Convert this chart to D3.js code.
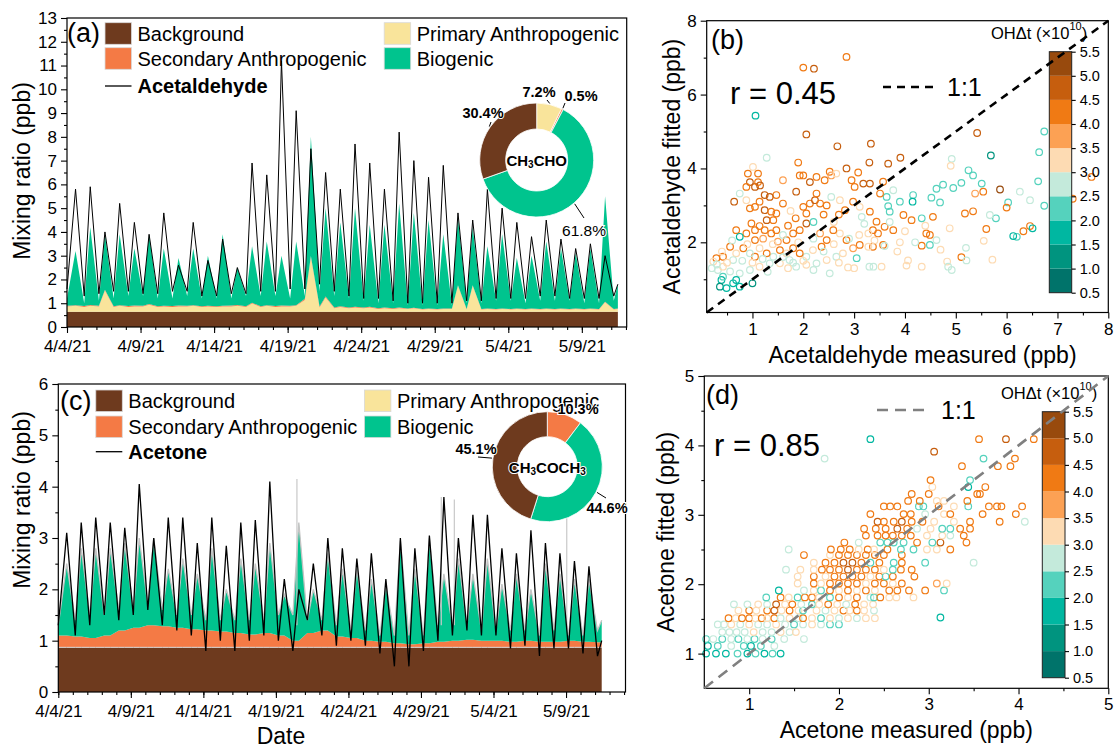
<!DOCTYPE html>
<meta charset="utf-8">
<style>
  body { margin: 0; background: #fff; }
  svg { font-family: "Liberation Sans", Arial, Helvetica, sans-serif; }
  .axis text { font-size: 17px; fill: #000; font-family: "Liberation Sans", Arial, sans-serif; }
  .axis line { stroke: #000; stroke-width: 1.1; }
</style>

<body>
  <script src="https://d3js.org/d3.v7.min.js"></script>
  <script>
    // ---------------- data ----------------
    var sourceNames = ["Background", "Primary Anthropogenic", "Secondary Anthropogenic", "Biogenic"];
    var sourceColors = ["#6e3a1e", "#f9e49b", "#f47a45", "#00c48e"];

    var ohBands = [0.5, 1.0, 1.5, 2.0, 2.5, 3.0, 3.5, 4.0, 4.5, 5.0, 5.5];
    var ohColors = ["#00736a", "#00947f", "#00b7a1", "#55d2bd", "#c4eadb",
      "#fddbb3", "#fca154", "#f07a14", "#c65e0e", "#984a0d"];

    var dateTickDays = [0, 5, 10, 15, 20, 25, 30, 35];

    // (a) acetaldehyde, one low (early morning) and one peak (afternoon) value per day
    var aBackground = 0.64;
    var aPrimLow = [0.22, 0.2, 0.22, 0.2, 0.2, 0.22, 0.2, 0.2, 0.22, 0.2, 0.2, 0.22, 0.2, 0.2, 0.2, 0.22, 0.5, 0.18, 0.15, 0.15,
      0.15, 0.12, 0.12, 0.12, 0.1, 0.1, 0.12, 0.1, 0.1, 0.1, 0.1, 0.1, 0.1, 0.1, 0.1, 0.1, 0.1, 0.1];
    var aPrimPeak = [0.25, 0.25, 0.9, 0.25, 0.22, 0.3, 0.22, 0.22, 0.25, 0.22, 0.22, 0.25, 0.35, 0.25, 0.22, 0.25, 2.3, 0.6, 0.2, 0.18,
      0.18, 0.15, 0.15, 0.15, 0.12, 0.12, 1.1, 1.1, 0.12, 0.12, 0.12, 0.12, 0.12, 0.12, 0.12, 0.12, 0.4, 0.12];
    var aSec = [0.03, 0.04, 0.03, 0.03, 0.04, 0.03, 0.03, 0.04, 0.03, 0.03, 0.03, 0.04, 0.03, 0.03, 0.04, 0.03, 0.05, 0.04, 0.03, 0.03,
      0.03, 0.03, 0.03, 0.02, 0.02, 0.02, 0.02, 0.02, 0.02, 0.02, 0.02, 0.02, 0.02, 0.02, 0.02, 0.02, 0.02, 0.02];
    var aBioTopLow = [1.2, 1.0, 1.1, 1.2, 1.3, 1.3, 1.2, 1.2, 1.3, 1.2, 1.2, 1.2, 1.3, 1.3, 1.3, 1.2, 1.3, 1.5, 1.3, 1.2,
      1.1, 1.0, 1.0, 0.9, 0.9, 0.9, 0.9, 1.0, 1.0, 1.1, 1.1, 1.0, 1.1, 1.1, 1.1, 1.0, 1.0, 1.1];
    var aBioTopPeak = [3.2, 4.2, 3.9, 3.9, 3.3, 3.9, 3.3, 2.9, 3.3, 3.0, 3.9, 2.5, 3.4, 3.6, 3.0, 3.6, 8.0, 5.0, 4.4, 5.0,
      4.3, 4.3, 5.2, 4.8, 4.5, 3.9, 4.6, 4.2, 3.4, 3.9, 2.9, 3.0, 3.6, 3.3, 3.1, 3.3, 5.5, 1.8];
    var aMeasLow = [1.6, 1.3, 1.4, 1.5, 1.5, 1.4, 1.4, 1.5, 1.5, 1.3, 1.3, 1.4, 1.4, 1.5, 1.5, 1.6, 1.6, 1.8, 1.5, 1.3,
      1.2, 1.2, 1.1, 1.0, 1.0, 1.0, 1.0, 1.1, 1.1, 1.2, 1.2, 1.2, 1.3, 1.3, 1.2, 1.2, 1.2, 1.3];
    var aMeasPeak = [5.8, 5.9, 4.0, 5.2, 4.4, 3.9, 4.8, 2.6, 4.4, 2.8, 3.7, 2.5, 6.9, 6.4, 11.2, 9.1, 7.5, 6.5, 5.8, 7.7,
      6.9, 5.8, 8.2, 7.0, 6.3, 6.8, 4.8, 4.5, 5.8, 5.0, 4.4, 3.8, 4.5, 3.7, 3.3, 3.5, 3.0, 1.8];

    // (c) acetone
    var cBackground = 0.87;
    var cSecTop = [1.1, 1.08, 1.05, 1.1, 1.2, 1.25, 1.3, 1.28, 1.25, 1.22, 1.2, 1.18, 1.15, 1.12, 1.15, 1.1, 1.0, 1.15, 1.2, 1.08,
      1.05, 1.0, 0.98, 0.95, 0.93, 0.95, 0.98, 1.0, 1.02, 1.0, 1.0, 0.98, 1.0, 0.98, 0.98, 1.0, 0.98, 0.97];
    var cBioTopLow = [1.3, 1.4, 1.5, 1.5, 1.6, 1.6, 1.7, 1.6, 1.5, 1.5, 1.4, 1.4, 1.4, 1.4, 1.4, 1.5, 1.5, 1.4, 1.4, 1.3,
      1.2, 1.2, 1.1, 1.1, 1.1, 1.1, 1.3, 1.3, 1.3, 1.2, 1.2, 1.2, 1.2, 1.1, 1.2, 1.1, 1.1, 1.2];
    var cBioTopPeak = [2.5, 2.8, 2.8, 2.8, 2.9, 3.0, 3.0, 2.4, 2.6, 2.3, 2.8, 2.0, 2.6, 2.5, 2.9, 1.9, 3.3, 2.0, 2.7, 2.4,
      2.4, 2.2, 2.1, 2.95, 2.4, 3.0, 2.3, 2.6, 2.3, 2.6, 2.1, 2.3, 2.0, 2.5, 2.3, 2.2, 2.2, 1.4];
    var cMeasLow = [1.3, 1.1, 1.3, 1.5, 1.4, 1.5, 1.6, 1.3, 1.2, 1.1, 0.8, 1.0, 0.8, 1.0, 1.1, 1.0, 0.8, 1.4, 1.1, 0.9,
      1.0, 0.9, 0.75, 0.5, 0.5, 0.8, 1.0, 1.1, 1.2, 1.1, 1.1, 0.85, 0.9, 0.7, 0.85, 0.85, 0.75, 0.7];
    var cMeasPeak = [3.1, 3.3, 3.4, 3.3, 3.2, 4.05, 3.0, 3.4, 3.4, 2.9, 3.4, 2.85, 3.3, 3.35, 4.1, 2.2, 2.0, 2.5, 3.0, 2.8,
      2.6, 2.7, 2.2, 3.0, 2.8, 3.05, 3.8, 3.0, 3.45, 3.45, 2.8, 2.7, 3.15, 2.9, 2.7, 2.55, 2.45, 1.0];
    var cGraySpikeDays = [16.45, 26.4, 27.3, 35.05];
    var cGraySpikeValues = [4.15, 3.8, 3.75, 3.5];

    // donuts (percent), in clockwise order from 12 o'clock
    var pieAValues = [7.2, 0.5, 61.8, 30.4];
    var pieASource = [1, 2, 3, 0];
    var pieCValues = [10.3, 44.6, 45.1];
    var pieCSource = [2, 3, 0];

    // (b) acetaldehyde measured, fitted, OH exposure
    var bPoints = [
      [2.85, 7.02, 4.3], [2.0, 6.73, 4.4], [2.21, 6.7, 4.5], [1.06, 5.43, 1.9], [2.06, 4.92, 4.7], [2.67, 4.6, 4.9], [3.33, 4.67, 4.6],
      [5.42, 4.96, 4.8], [6.74, 5.0, 2.4], [6.64, 4.44, 2.2], [5.69, 4.35, 1.4], [3.91, 4.29, 4.6], [3.67, 4.13, 4.6], [3.3, 4.16, 4.5],
      [1.9, 4.16, 4.2], [2.85, 4.0, 4.5], [1.28, 4.29, 2.8], [7.67, 3.77, 4.2], [5.87, 3.43, 5.0], [4.92, 4.26, 2.8], [4.9, 4.07, 3.3],
      [5.25, 3.95, 2.0], [5.34, 3.81, 2.1], [5.51, 3.59, 2.4], [5.54, 3.37, 4.0], [5.38, 3.32, 3.8], [5.11, 3.61, 2.0], [4.95, 3.47, 2.2],
      [4.75, 3.56, 2.3], [4.62, 3.45, 2.0], [4.52, 3.21, 2.1], [4.69, 3.08, 2.1], [6.03, 3.08, 2.0], [6.0, 2.94, 4.1], [6.46, 3.14, 2.9],
      [6.26, 3.37, 2.8], [6.74, 2.99, 2.3], [7.3, 3.18, 4.0], [6.62, 3.65, 2.3], [5.79, 2.65, 2.2], [5.67, 2.74, 2.8], [5.18, 2.78, 4.3],
      [5.34, 2.84, 4.0], [5.6, 2.36, 4.3], [5.55, 2.04, 3.3], [6.2, 2.15, 2.0], [6.13, 2.17, 1.9], [6.33, 2.3, 4.2], [6.46, 2.44, 4.3],
      [6.51, 2.38, 1.9], [5.11, 1.6, 4.3], [5.21, 1.51, 2.6], [5.72, 1.53, 3.3], [4.83, 1.48, 3.2], [4.85, 1.34, 2.9], [4.92, 1.25, 2.6],
      [4.33, 1.34, 3.3], [4.03, 1.37, 3.3], [4.06, 1.51, 3.3], [3.54, 1.34, 3.3], [3.38, 1.34, 2.7], [3.3, 1.34, 2.6], [3.05, 1.57, 2.1],
      [2.88, 1.32, 3.2], [2.52, 1.16, 2.7], [4.49, 1.93, 2.0], [4.62, 2.06, 2.8], [4.88, 2.38, 3.4], [4.42, 2.24, 4.3], [4.33, 1.91, 4.0],
      [4.49, 2.2, 4.3], [4.55, 2.69, 4.2], [4.33, 2.65, 2.0], [4.13, 2.6, 4.2], [3.97, 2.74, 4.2], [4.16, 3.28, 2.0], [4.15, 3.1, 1.9],
      [3.9, 3.1, 2.1], [3.67, 2.98, 2.1], [3.7, 2.83, 2.2], [3.64, 3.23, 2.1], [3.6, 2.42, 4.3], [3.77, 2.33, 4.0], [3.77, 3.41, 2.8],
      [3.51, 3.32, 4.0], [3.57, 3.64, 4.3], [3.31, 3.59, 4.5], [3.18, 3.59, 4.5], [3.01, 3.5, 4.3], [3.08, 3.89, 4.3], [2.95, 3.68, 4.2],
      [2.52, 3.91, 4.2], [2.55, 3.81, 3.5], [2.65, 3.86, 3.3], [2.42, 3.68, 4.2], [2.26, 3.77, 4.4], [2.13, 3.63, 4.6], [1.93, 3.81, 4.4],
      [2.0, 3.81, 4.2], [1.86, 3.37, 4.8], [1.6, 3.68, 3.5], [1.47, 3.28, 4.2], [1.34, 3.23, 4.8], [1.24, 3.28, 4.5], [1.14, 3.1, 4.2],
      [1.05, 3.5, 4.5], [0.95, 3.63, 4.7], [0.88, 3.5, 4.4], [1.11, 3.63, 4.3], [1.01, 4.04, 3.2], [0.91, 3.86, 4.3], [1.11, 3.86, 4.1],
      [1.15, 3.54, 4.6], [0.64, 3.1, 4.7], [0.75, 3.32, 2.6], [0.88, 3.14, 3.3], [0.95, 2.92, 4.4], [1.05, 2.96, 4.2], [1.24, 2.87, 4.6],
      [1.37, 2.83, 4.2], [1.47, 2.78, 4.0], [1.28, 2.6, 4.9], [1.41, 2.6, 4.3], [1.14, 2.44, 4.3], [0.98, 2.51, 4.1], [1.05, 2.33, 4.4],
      [1.24, 2.33, 4.2], [0.68, 2.33, 4.2], [0.88, 2.24, 4.0], [0.75, 2.15, 1.8], [1.05, 2.06, 4.3], [1.21, 2.1, 3.9], [1.37, 2.24, 4.1],
      [1.47, 2.33, 4.0], [1.5, 2.02, 3.5], [1.67, 2.06, 4.2], [1.8, 2.24, 4.0], [1.93, 2.33, 4.3], [2.06, 2.51, 4.6], [2.2, 2.55, 2.4],
      [2.06, 2.78, 4.2], [2.0, 2.96, 4.4], [2.13, 3.05, 4.2], [2.23, 3.14, 4.5], [2.33, 3.05, 4.3], [2.46, 3.0, 4.1], [2.26, 3.32, 4.2],
      [2.55, 3.23, 2.8], [2.72, 3.14, 3.4], [2.82, 2.87, 4.2], [2.98, 3.1, 4.3], [3.11, 2.96, 3.3], [3.15, 2.69, 2.8], [3.31, 2.83, 4.2],
      [3.44, 2.56, 4.0], [3.37, 2.33, 4.2], [3.28, 2.24, 3.4], [3.47, 2.24, 4.1], [3.57, 1.93, 4.2], [3.37, 1.88, 4.0], [3.28, 1.88, 3.3],
      [3.11, 1.93, 4.2], [2.98, 1.84, 3.9], [2.85, 2.06, 4.2], [2.72, 2.24, 3.3], [2.59, 2.33, 4.2], [2.46, 2.06, 4.3], [2.33, 2.24, 3.5],
      [2.36, 1.88, 4.2], [2.19, 1.79, 3.3], [2.06, 1.61, 2.6], [1.93, 1.7, 4.0], [1.8, 1.84, 4.3], [1.67, 1.7, 3.3], [1.54, 1.79, 4.0],
      [1.41, 1.61, 2.8], [1.28, 1.7, 4.1], [1.14, 1.84, 3.4], [1.05, 1.61, 4.2], [0.95, 1.7, 2.7], [0.82, 1.84, 4.0], [0.68, 1.7, 3.3],
      [0.56, 1.88, 4.2], [0.62, 1.52, 2.6], [0.42, 1.61, 4.1], [0.29, 1.57, 4.2], [0.23, 1.48, 3.4], [0.2, 1.3, 2.7], [0.32, 1.25, 2.6],
      [0.42, 1.34, 3.2], [0.56, 1.21, 2.8], [0.75, 1.16, 2.6], [0.95, 1.25, 2.7], [1.14, 1.34, 3.2], [1.34, 1.43, 2.7], [1.54, 1.43, 3.3],
      [1.73, 1.52, 2.7], [1.86, 1.34, 2.8], [2.06, 1.39, 3.2], [2.26, 1.43, 2.7], [2.46, 1.52, 3.3], [2.65, 1.61, 2.8], [2.78, 1.7, 3.3],
      [0.39, 0.98, 1.8], [0.36, 0.8, 1.3], [0.49, 0.76, 1.6], [0.62, 0.89, 1.8], [0.68, 0.98, 1.9], [0.42, 1.07, 2.0], [1.0, 0.89, 1.2],
      [0.75, 0.8, 1.7], [0.3, 1.4, 2.6], [0.5, 1.45, 3.2], [0.8, 1.5, 2.6], [1.0, 1.45, 3.3], [1.2, 1.55, 2.6], [1.6, 1.6, 2.8],
      [1.8, 1.45, 2.6], [2.0, 1.5, 3.3], [2.4, 1.75, 2.7], [2.6, 1.95, 3.3], [2.9, 2.1, 2.7], [3.1, 2.2, 3.3], [3.2, 2.5, 2.7],
      [1.4, 1.95, 3.2], [1.6, 2.2, 2.7], [1.9, 2.0, 3.3], [2.2, 2.1, 2.6], [0.9, 1.95, 3.3], [0.6, 2.05, 2.6], [0.4, 1.75, 3.3],
      [1.3, 1.2, 2.6], [1.7, 1.3, 3.2], [2.2, 1.25, 2.8], [2.7, 1.45, 3.2], [3.0, 1.3, 3.4], [3.6, 1.9, 2.7], [3.9, 2.0, 3.2],
      [4.0, 2.3, 3.4], [4.2, 2.0, 2.8], [3.85, 1.75, 3.3], [4.7, 1.8, 3.3], [5.2, 1.85, 2.8], [3.4, 2.05, 3.3], [3.7, 2.55, 2.7],
      [4.4, 2.45, 3.2], [1.7, 2.45, 4.1], [1.75, 2.85, 3.4], [1.6, 3.05, 4.2], [1.85, 2.65, 4.3], [2.4, 2.75, 4.1], [2.7, 2.75, 4.4],
      [2.6, 2.55, 3.3]
    ];

    // (d) acetone: fitted values come in rows, each row lists [measured, OH exposure]
    var dRows = [
      [1.0, [[0.52, 1.8], [0.63, 1.6], [0.74, 1.7], [0.87, 2.0], [0.98, 1.5], [1.07, 2.0], [1.17, 1.6], [1.26, 2.0], [1.35, 1.8]]],
      [1.11, [[0.54, 1.8], [0.65, 2.2], [0.8, 2.6], [0.94, 2.0], [1.02, 1.9], [1.13, 2.1], [1.28, 2.6]]],
      [1.21, [[0.52, 2.0], [0.6, 2.7], [0.7, 2.0], [0.8, 2.6], [0.88, 2.0], [0.98, 2.7], [1.06, 2.0], [1.15, 2.6], [1.25, 2.2], [1.39, 2.8], [1.61, 2.9]]],
      [1.31, [[0.7, 2.8], [0.78, 2.6], [0.86, 2.9], [0.95, 2.7], [1.05, 3.2], [1.15, 2.6], [1.25, 2.8], [1.35, 3.3], [1.45, 2.7], [1.52, 3.2]]],
      [1.42, [[0.65, 2.8], [0.72, 2.6], [0.8, 3.2], [0.9, 2.7], [1.0, 3.3], [1.1, 2.7], [1.2, 2.8], [1.3, 3.2], [1.4, 2.6], [1.5, 2.0],
        [1.6, 2.7], [1.7, 3.2], [1.8, 2.6], [1.9, 2.0], [2.0, 2.2]]],
      [1.51, [[0.77, 4.0], [0.85, 3.3], [0.92, 4.0], [1.0, 4.3], [1.07, 3.3], [1.14, 4.0], [1.2, 3.2], [1.28, 4.0], [1.35, 2.8], [1.45, 3.3],
        [1.55, 2.6], [1.6, 4.0], [1.7, 3.3], [1.8, 2.0], [1.9, 3.2], [2.0, 2.7], [2.1, 3.3], [2.2, 2.7], [2.3, 3.3], [2.4, 3.3]]],
      [1.62, [[0.88, 3.2], [1.0, 4.0], [1.08, 3.3], [1.2, 4.3], [1.28, 4.8], [1.36, 3.3], [1.45, 4.0], [1.55, 3.2], [1.6, 2.0], [1.75, 3.3],
        [1.85, 2.7], [1.95, 3.3], [2.05, 4.0], [2.12, 3.3], [2.2, 4.0], [2.28, 3.3], [2.39, 2.6]]],
      [1.71, [[0.83, 2.8], [0.98, 2.7], [1.1, 3.3], [1.2, 2.8], [1.3, 4.5], [1.4, 3.3], [1.48, 4.0], [1.58, 2.8], [1.7, 2.2], [1.78, 3.3],
        [1.88, 4.0], [1.98, 3.3], [2.08, 2.7], [2.18, 4.0], [2.28, 3.3], [2.38, 3.3]]],
      [1.81, [[1.19, 2.0], [1.35, 4.0], [1.44, 3.3], [1.54, 2.0], [1.62, 4.2], [1.7, 4.0], [1.78, 3.3], [1.9, 2.0], [2.0, 4.0], [2.1, 3.3],
        [2.2, 4.3], [2.35, 2.7], [2.39, 2.0], [2.46, 4.0], [2.56, 3.3], [2.64, 3.3], [2.83, 3.4]]],
      [1.91, [[1.33, 1.9], [1.61, 2.6], [1.72, 3.3], [1.8, 2.0], [1.9, 4.0], [2.0, 3.3], [2.1, 4.2], [2.2, 3.3], [2.3, 4.0], [2.4, 3.3],
        [2.56, 4.0], [2.65, 4.2], [2.78, 4.0], [2.96, 4.3], [3.17, 2.1]]],
      [2.01, [[1.54, 3.3], [1.72, 4.0], [1.8, 3.2], [1.9, 4.0], [2.0, 4.3], [2.1, 4.0], [2.2, 4.3], [2.3, 3.3], [2.4, 4.0], [2.5, 4.3],
        [2.6, 3.3], [2.7, 4.0], [3.09, 3.5], [3.2, 3.2]]],
      [2.11, [[1.54, 3.3], [1.72, 4.2], [1.85, 3.2], [1.95, 4.0], [2.05, 4.2], [2.15, 4.0], [2.25, 4.3], [2.35, 3.3], [2.45, 4.2], [2.52, 2.0],
        [2.6, 4.0], [2.84, 4.2]]],
      [2.21, [[1.41, 2.8], [1.57, 3.3], [1.72, 3.3], [1.81, 4.3], [1.9, 4.0], [2.0, 4.3], [2.1, 4.5], [2.2, 4.0], [2.3, 4.3], [2.4, 4.0],
        [2.5, 3.3], [2.6, 2.0], [2.69, 4.2], [2.81, 4.2]]],
      [2.31, [[1.72, 3.3], [1.85, 4.0], [1.95, 4.3], [2.05, 4.5], [2.15, 4.8], [2.25, 4.0], [2.35, 2.0], [2.45, 4.3], [2.61, 2.0], [2.7, 4.0],
        [2.96, 2.0], [3.5, 2.6]]],
      [2.42, [[1.61, 4.4], [1.9, 3.3], [2.0, 4.2], [2.1, 4.3], [2.2, 4.0], [2.3, 4.3], [2.4, 4.2], [2.5, 4.0], [2.7, 4.3]]],
      [2.5, [[1.44, 2.8], [1.91, 4.3], [2.02, 4.0], [2.12, 4.2], [2.22, 3.3], [2.32, 4.0], [2.39, 3.3], [2.54, 4.2], [2.69, 2.0], [2.83, 2.0],
        [2.98, 3.3], [3.09, 3.3], [3.24, 4.0]]],
      [2.6, [[2.06, 4.2], [2.22, 2.8], [2.46, 2.0], [2.54, 2.0], [2.61, 2.0], [2.72, 2.0], [2.87, 4.2], [3.04, 2.0], [3.13, 4.7], [3.42, 4.0]]],
      [2.7, [[2.3, 4.4], [2.43, 4.2], [2.52, 4.3], [2.6, 4.0], [2.7, 4.2], [2.8, 4.3], [2.98, 3.3], [3.15, 3.3], [3.24, 2.6], [3.39, 4.0]]],
      [2.8, [[2.28, 4.2], [2.41, 4.3], [2.52, 4.0], [2.65, 4.5], [2.76, 4.2], [2.87, 2.8], [3.02, 3.3], [3.15, 2.0], [3.24, 2.0], [3.35, 4.2],
        [3.46, 4.0]]],
      [2.9, [[2.43, 4.5], [2.5, 4.2], [2.61, 4.2], [2.7, 4.8], [2.81, 4.2], [2.93, 4.0], [3.06, 3.3], [3.28, 3.3], [3.46, 4.3], [3.79, 4.0],
        [4.07, 2.7]]],
      [3.01, [[2.35, 4.2], [2.72, 4.2], [2.8, 4.3], [2.96, 2.8], [3.17, 3.2], [3.24, 4.3], [3.6, 4.2], [3.97, 4.0]]],
      [3.12, [[2.5, 4.2], [2.57, 4.2], [2.65, 4.2], [2.89, 2.0], [2.94, 2.0], [3.11, 4.3], [3.28, 3.3], [3.44, 2.0], [3.67, 4.0], [3.76, 4.2],
        [3.81, 4.2], [4.04, 4.0]]],
      [3.2, [[2.77, 4.3], [2.9, 4.0], [3.09, 3.3], [3.17, 3.4], [3.43, 4.2]]],
      [3.3, [[2.81, 4.2], [3.0, 4.2], [3.54, 4.0], [3.57, 4.2]]],
      [3.4, [[3.04, 3.2], [3.44, 1.7], [3.63, 4.2]]],
      [3.5, [[3.02, 4.2], [3.46, 2.2]]],
      [3.7, [[3.37, 4.2], [3.77, 4.3], [3.91, 4.2]]],
      [3.81, [[1.84, 2.8], [3.61, 2.4], [3.96, 4.3]]],
      [3.91, [[3.06, 4.5]]],
      [4.09, [[2.35, 1.8], [3.56, 4.3], [3.86, 4.6], [4.17, 4.3]]],
      [1.52, [[3.13, 1.7]]]
    ];

    // ---------------- helpers ----------------
    var day0 = Date.UTC(2021, 3, 4);
    function toDate(t) { return new Date(day0 + t * 864e5); }
    var ohColor = d3.scaleThreshold().domain(ohBands.slice(1, -1)).range(ohColors);

    var svg = d3.select("body").append("svg")
      .attr("width", 1114)
      .attr("height", 749);

    function label(g, x, y, s, size, opt) {
      opt = opt || {};
      return g.append("text")
        .attr("x", x).attr("y", y)
        .attr("font-size", size)
        .attr("font-weight", opt.bold ? "bold" : null)
        .attr("text-anchor", opt.anchor || "start")
        .attr("dominant-baseline", "central")
        .attr("transform", opt.rotate ? "rotate(-90," + x + "," + y + ")" : null)
        .text(s);
    }

    // makeAxis returns a fresh d3 axis each call
    function addAxis(g, makeAxis, tr, majors, minors, fmt, pad) {
      g.append("g").attr("class", "axis").attr("transform", tr)
        .call(makeAxis().tickValues(majors).tickSize(6).tickPadding(pad || 4).tickFormat(fmt))
        .call(function (s) { s.select(".domain").remove(); s.attr("font-size", null).attr("font-family", null); });
      g.append("g").attr("class", "axis").attr("transform", tr)
        .call(makeAxis().tickValues(minors).tickSize(3).tickFormat(""))
        .call(function (s) { s.select(".domain").remove(); });
    }

    function frame(g, l, t, r, b) {
      g.append("rect").attr("x", l).attr("y", t).attr("width", r - l).attr("height", b - t)
        .attr("fill", "none").attr("stroke", "#000").attr("stroke-width", 1.2);
    }

    function makeRows(n, end, layerFn) {
      var rows = [];
      for (var d = 0; d < n; d++) {
        rows.push(layerFn(d, false, d === 0 ? 0 : d + 0.17));
        rows.push(layerFn(d, true, Math.min(d + 0.58, end)));
      }
      return rows;
    }

    // ---------------- time series panels ----------------
    function timePanel(cfg) {
      var g = svg.append("g");
      var x = d3.scaleUtc().domain([toDate(0), toDate(cfg.span)]).range([cfg.left, cfg.right]);
      var y = d3.scaleLinear().domain([0, cfg.yMax]).range([cfg.bottom, cfg.top]);
      var series = d3.stack().keys(cfg.keys)(cfg.rows);
      var area = d3.area()
        .x(function (d) { return x(toDate(d.data.t)); })
        .y0(function (d) { return y(d[0]); })
        .y1(function (d) { return y(d[1]); });
      g.selectAll(".layer").data(series).join("path")
        .attr("class", "layer")
        .attr("fill", function (d, i) { return cfg.colors[i]; })
        .attr("d", area);
      if (cfg.outline) {
        g.append("path").datum(series[series.length - 1])
          .attr("fill", "none").attr("stroke", "#c4c4c4").attr("stroke-width", 1.3)
          .attr("d", d3.line().x(function (d) { return x(toDate(d.data.t)); }).y(function (d) { return y(d[1]); }));
        g.append("path").datum(series[0])
          .attr("fill", "none").attr("stroke", "#d8d8d8").attr("stroke-width", 1)
          .attr("d", d3.line().x(function (d) { return x(toDate(d.data.t)); }).y(function (d) { return y(d[1]); }));
      }
      if (cfg.spikes) {
        g.selectAll(".spike").data(cfg.spikes).join("line")
          .attr("stroke", "#c8c8c8").attr("stroke-width", 1.2)
          .attr("x1", function (d) { return x(toDate(d[0])); }).attr("x2", function (d) { return x(toDate(d[0])); })
          .attr("y1", y(1.3)).attr("y2", function (d) { return y(d[1]); });
      }
      g.append("path").datum(cfg.rows)
        .attr("fill", "none").attr("stroke", "#000").attr("stroke-width", cfg.lineWidth)
        .attr("d", d3.line().x(function (d) { return x(toDate(d.t)); }).y(function (d) { return y(d.meas); }));

      frame(g, cfg.left, cfg.top, cfg.right, cfg.bottom);
      addAxis(g, function () { return d3.axisLeft(y); }, "translate(" + cfg.left + ",0)",
        d3.range(0, cfg.yMax + 1), d3.range(0.5, cfg.yMax, 1), d3.format("d"));
      addAxis(g, function () { return d3.axisBottom(x); }, "translate(0," + cfg.bottom + ")",
        dateTickDays.map(toDate), d3.range(0, Math.floor(cfg.span) + 1).map(toDate), d3.utcFormat("%-m/%-d/%y"), 7);
      return g;
    }

    var aRows = makeRows(aBioTopPeak.length, 37.45, function (d, peak, t) {
      var prim = peak ? aPrimPeak[d] : aPrimLow[d];
      var top = peak ? aBioTopPeak[d] : aBioTopLow[d];
      return {
        t: t, bg: aBackground, prim: prim, sec: aSec[d],
        bio: Math.max(0, top - aBackground - prim - aSec[d]),
        meas: peak ? aMeasPeak[d] : aMeasLow[d]
      };
    });
    var gA = timePanel({
      left: 67, right: 626.7, top: 18, bottom: 327, yMax: 13, span: 38.05,
      rows: aRows, keys: ["bg", "prim", "sec", "bio"], colors: sourceColors, lineWidth: 1
    });

    var cRows = makeRows(cBioTopPeak.length, 37.46, function (d, peak, t) {
      var sec = cSecTop[d] - cBackground;
      var top = peak ? cBioTopPeak[d] : cBioTopLow[d];
      return {
        t: t, bg: cBackground, sec: sec, bio: Math.max(0, top - cSecTop[d]),
        meas: peak ? cMeasPeak[d] : cMeasLow[d]
      };
    });
    var gC = timePanel({
      left: 58.3, right: 625.5, top: 384, bottom: 692, yMax: 6, span: 39.1,
      rows: cRows, keys: ["bg", "sec", "bio"], colors: [sourceColors[0], sourceColors[2], sourceColors[3]],
      lineWidth: 1.3, outline: true,
      spikes: cGraySpikeDays.map(function (d, i) { return [d, cGraySpikeValues[i]]; })
    });

    // legends of (a) and (c)
    function legend(g, lx, rx, rowsY, lineLabel) {
      var items = [[lx, rowsY[0], 0], [lx, rowsY[1], 2], [rx, rowsY[0], 1], [rx, rowsY[1], 3]];
      items.forEach(function (it) {
        g.append("rect").attr("x", it[0]).attr("y", it[1] - 10.8).attr("width", 26.5).attr("height", 21.6)
          .attr("fill", sourceColors[it[2]]).attr("stroke", "#d9d9d9").attr("stroke-width", 0.8);
        label(g, it[0] + 32.5, it[1], sourceNames[it[2]], 20);
      });
      g.append("line").attr("x1", lx).attr("x2", lx + 26.5).attr("y1", rowsY[2]).attr("y2", rowsY[2])
        .attr("stroke", "#000").attr("stroke-width", 1.3);
      label(g, lx + 32.5, rowsY[2], lineLabel, 20, { bold: true });
    }
    legend(gA, 105, 384.2, [33.5, 58.5, 86], "Acetaldehyde");
    legend(gC, 95.8, 364.4, [400.8, 426.8, 451.7], "Acetone");
    label(gA, 67, 33, "(a)", 27);
    label(gC, 60, 401, "(c)", 27);

    label(svg, 22, 171, "Mixing ratio (ppb)", 23, { anchor: "middle", rotate: true });
    label(svg, 22, 500, "Mixing ratio (ppb)", 23, { anchor: "middle", rotate: true });
    label(svg, 281, 736, "Date", 23, { anchor: "middle" });

    // donuts
    function donut(g, cx, cy, R, r, values, srcIdx, labels, center) {
      var pie = d3.pie().sort(null)(values);
      var arc = d3.arc().innerRadius(r).outerRadius(R);
      var dg = g.append("g").attr("transform", "translate(" + cx + "," + cy + ")");
      dg.selectAll("path").data(pie).join("path")
        .attr("d", arc)
        .attr("fill", function (d, i) { return sourceColors[srcIdx[i]]; })
        .attr("stroke", "#fff").attr("stroke-width", 0.8);
      var edge = d3.arc().innerRadius(R + 1).outerRadius(R + 1);
      labels.forEach(function (lb) {
        var p = edge.centroid(pie[lb.slice]);
        if (lb.leader) {
          dg.append("line").attr("x1", p[0]).attr("y1", p[1])
            .attr("x2", lb.leader[0] - cx).attr("y2", lb.leader[1] - cy)
            .attr("stroke", "#000").attr("stroke-width", 1);
        }
        label(g, lb.x, lb.y, values[lb.slice].toFixed(1) + "%", lb.size || 14.5, { bold: lb.bold, anchor: "middle" })
          .attr("stroke", "#fff").attr("stroke-width", 2).attr("paint-order", "stroke");
      });
      var t = g.append("text").attr("x", cx).attr("y", cy).attr("text-anchor", "middle")
        .attr("dominant-baseline", "central").attr("font-size", 15).attr("font-weight", "bold")
        .attr("stroke", "#fff").attr("stroke-width", 2).attr("paint-order", "stroke");
      center.forEach(function (part) {
        t.append("tspan").attr("font-size", part[1] > 0 ? 10 : 15).attr("dy", part[1]).text(part[0]);
      });
    }
    donut(gA, 536.7, 160, 57, 31, pieAValues, pieASource, [
      { slice: 0, x: 539, y: 92, bold: true, leader: [547, 100] },
      { slice: 1, x: 581, y: 96, bold: true, leader: [565, 103] },
      { slice: 3, x: 483, y: 113, bold: true, leader: [491, 122] },
      { slice: 2, x: 584, y: 230, size: 15.5, leader: [584, 218] }
    ], [["CH", 0], ["3", 4], ["CHO", -4]]);
    donut(gC, 547.3, 466.7, 55, 30, pieCValues, pieCSource, [
      { slice: 0, x: 578, y: 409, bold: true },
      { slice: 2, x: 476, y: 449, bold: true, leader: [478, 457] },
      { slice: 1, x: 607, y: 508, bold: true, leader: [606, 498] }
    ], [["CH", 0], ["3", 4], ["COCH", -4], ["3", 4]]);

    // ---------------- scatter panels ----------------
    function scatterPanel(cfg) {
      var g = svg.append("g");
      var x = d3.scaleLinear().domain(cfg.domain).range([cfg.left, cfg.right]);
      var y = d3.scaleLinear().domain(cfg.domain).range([cfg.bottom, cfg.top]);
      g.selectAll("circle").data(cfg.points).join("circle")
        .attr("cx", function (d) { return x(d[0]); })
        .attr("cy", function (d) { return y(d[1]); })
        .attr("r", 3.3)
        .attr("fill", "none")
        .attr("stroke", function (d) { return ohColor(d[2]); })
        .attr("stroke-width", 1.2);

      frame(g, cfg.left, cfg.top, cfg.right, cfg.bottom);
      addAxis(g, function () { return d3.axisLeft(y); }, "translate(" + cfg.left + ",0)", cfg.yMajor, cfg.yMinor, d3.format("d"));
      addAxis(g, function () { return d3.axisBottom(x); }, "translate(0," + cfg.bottom + ")", cfg.xMajor, cfg.xMinor, d3.format("d"));

      // colour bar
      var cb = d3.scaleLinear().domain([ohBands[0], ohBands[ohBands.length - 1]]).range([cfg.cb.bottom, cfg.cb.top]);
      var cg = g.append("g");
      cg.selectAll("rect").data(ohColors).join("rect")
        .attr("x", cfg.cb.left).attr("width", cfg.cb.width)
        .attr("y", function (d, i) { return cb(ohBands[i + 1]); })
        .attr("height", function (d, i) { return cb(ohBands[i]) - cb(ohBands[i + 1]); })
        .attr("fill", function (d) { return d; });
      cg.append("rect").attr("x", cfg.cb.left).attr("width", cfg.cb.width)
        .attr("y", cfg.cb.top).attr("height", cfg.cb.bottom - cfg.cb.top)
        .attr("fill", "none").attr("stroke", "#222").attr("stroke-width", 1);
      cg.append("g").attr("class", "axis").attr("transform", "translate(" + (cfg.cb.left + cfg.cb.width) + ",0)")
        .call(d3.axisRight(cb).tickValues(ohBands).tickSize(4).tickPadding(4).tickFormat(d3.format(".1f")))
        .call(function (s) { s.select(".domain").remove(); s.attr("font-size", null).attr("font-family", null); })
        .selectAll("text").style("font-size", "14.5px");
      var t = g.append("text").attr("x", cfg.ohLabel[0]).attr("y", cfg.ohLabel[1])
        .attr("font-size", 16.5).attr("dominant-baseline", "central");
      t.append("tspan").text("OHΔt (×10");
      t.append("tspan").attr("font-size", 11).attr("dy", -7).text("10");
      t.append("tspan").attr("dy", 7).text(")");

      // 1:1 line
      g.append("line")
        .attr("x1", x(cfg.domain[0])).attr("y1", y(cfg.domain[0]))
        .attr("x2", x(cfg.domain[1])).attr("y2", y(cfg.domain[1]))
        .attr("stroke", cfg.oneColor).attr("stroke-width", 2.6).attr("stroke-dasharray", cfg.dash);
      g.append("line")
        .attr("x1", cfg.oneKey[0]).attr("x2", cfg.oneKey[0] + 52).attr("y1", cfg.oneKey[1]).attr("y2", cfg.oneKey[1])
        .attr("stroke", cfg.oneColor).attr("stroke-width", 2.6).attr("stroke-dasharray", cfg.dash);
      label(g, cfg.oneKey[0] + 64, cfg.oneKey[1], "1:1", 25);
      label(g, cfg.rLabel[0], cfg.rLabel[1], cfg.rText, 31);
      label(g, cfg.tag[0], cfg.tag[1], cfg.tagText, 27);
      label(g, (cfg.left + cfg.right) / 2 + cfg.xTitleShift, cfg.xTitleY, cfg.xTitle, 23, { anchor: "middle" });
      label(g, cfg.yTitleX, (cfg.top + cfg.bottom) / 2 + cfg.yTitleShift, cfg.yTitle, 23, { anchor: "middle", rotate: true });
      return g;
    }

    scatterPanel({
      left: 706.7, right: 1108.3, top: 20.7, bottom: 312.5, domain: [0.1, 8],
      points: bPoints,
      xMajor: [1, 2, 3, 4, 5, 6, 7, 8], xMinor: [0.5, 1.5, 2.5, 3.5, 4.5, 5.5, 6.5, 7.5],
      yMajor: [2, 4, 6, 8], yMinor: [1, 3, 5, 7],
      cb: { left: 1049.3, width: 22.4, top: 51.7, bottom: 292.7 },
      ohLabel: [991, 33],
      oneColor: "#000", dash: "8,6", oneKey: [883, 87],
      rText: "r = 0.45", rLabel: [730, 93],
      tagText: "(b)", tag: [711, 40],
      xTitle: "Acetaldehyde measured (ppb)", xTitleY: 355, xTitleShift: 15,
      yTitle: "Acetaldehyde fitted (ppb)", yTitleX: 672, yTitleShift: 0
    });

    var dPoints = [];
    dRows.forEach(function (row) {
      row[1].forEach(function (p) { dPoints.push([p[0], row[0], p[1]]); });
    });
    scatterPanel({
      left: 704.3, right: 1108.3, top: 376, bottom: 688.3, domain: [0.5, 5],
      points: dPoints,
      xMajor: [1, 2, 3, 4, 5], xMinor: [1.5, 2.5, 3.5, 4.5],
      yMajor: [1, 2, 3, 4, 5], yMinor: [1.5, 2.5, 3.5, 4.5],
      cb: { left: 1042.3, width: 22.7, top: 411.7, bottom: 677.7 },
      ohLabel: [1001, 393],
      oneColor: "#808080", dash: "11,7", oneKey: [877, 410],
      rText: "r = 0.85", rLabel: [714, 445],
      tagText: "(d)", tag: [706, 395],
      xTitle: "Acetone measured (ppb)", xTitleY: 730, xTitleShift: 0,
      yTitle: "Acetone fitted (ppb)", yTitleX: 666, yTitleShift: 0
    });
  </script>
</body>
